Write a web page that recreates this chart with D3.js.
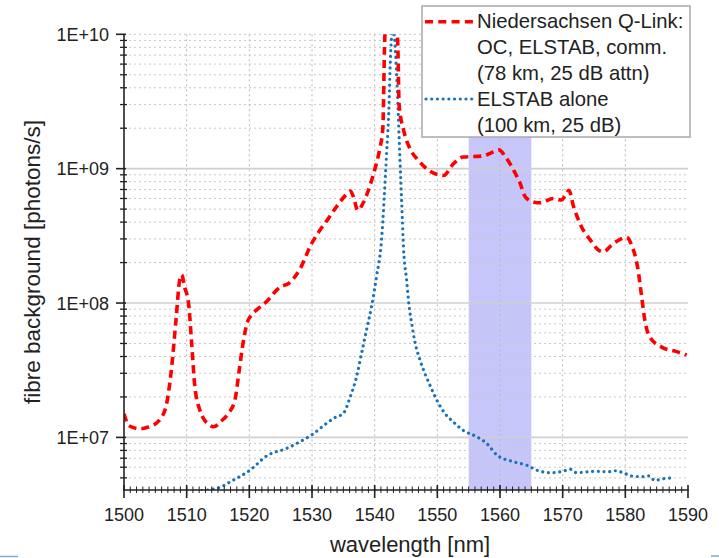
<!DOCTYPE html>
<html><head><meta charset="utf-8">
<script src="https://cdn.jsdelivr.net/npm/d3@7"></script>
<style>body{margin:0;background:#fff}svg{display:block;font-family:"Liberation Sans",Arial,sans-serif}</style>
</head><body><svg id="c" width="719" height="558"></svg>
<script>
// ---- data ----
const redX = [1500.0,1500.8,1502.5,1504.0,1505.5,1506.7,1507.5,1508.3,1508.9,1509.2,1509.7,1510.3,1510.8,1511.3,1512.1,1513.5,1514.3,1515.5,1516.6,1517.7,1518.4,1518.9,1519.6,1520.4,1521.3,1522.8,1524.0,1525.0,1526.3,1528.1,1529.9,1531.2,1532.6,1533.9,1535.3,1536.1,1536.6,1537.3,1538.2,1539.3,1540.0,1540.8,1541.3,1541.6,1541.8,1543.4,1543.7,1543.9,1544.6,1545.6,1547.0,1548.8,1550.2,1551.0,1552.5,1554.1,1557.1,1558.9,1559.8,1561.0,1562.3,1563.2,1564.0,1565.3,1566.4,1568.5,1569.8,1570.4,1571.0,1571.7,1573.0,1574.4,1575.7,1576.5,1577.8,1579.1,1580.2,1581.0,1582.0,1582.6,1583.1,1583.9,1585.8,1588.2,1589.8];
const redY = [1.5e7,1.22e7,1.16e7,1.2e7,1.32e7,1.7e7,3.0e7,7.5e7,1.5e8,1.62e8,1.3e8,1.0e8,5.0e7,2.4e7,1.6e7,1.25e7,1.2e7,1.32e7,1.5e7,1.9e7,3.2e7,4.7e7,7.0e7,8.2e7,9.0e7,1.03e8,1.2e8,1.32e8,1.4e8,1.8e8,2.75e8,3.45e8,4.25e8,5.2e8,6.3e8,6.8e8,6.2e8,4.9e8,5.6e8,7.6e8,9.8e8,1.4e9,2.0e9,9e9,1.3e10,1.3e10,8e9,3e9,1.95e9,1.42e9,1.15e9,9.6e8,9.0e8,8.9e8,1.08e9,1.22e9,1.24e9,1.33e9,1.38e9,1.2e9,9.5e8,7.8e8,6.2e8,5.66e8,5.57e8,6.0e8,5.85e8,6.3e8,6.9e8,5.3e8,3.7e8,2.95e8,2.48e8,2.4e8,2.7e8,2.97e8,3.08e8,2.7e8,1.8e8,1.12e8,7.5e7,5.6e7,4.7e7,4.35e7,4.1e7];
const blueX = [1511.5,1514.8,1517.4,1520.1,1522.8,1526.0,1528.1,1529.9,1532.3,1533.6,1535.0,1536.1,1537.1,1537.9,1538.7,1539.5,1540.3,1541.1,1541.5,1541.9,1542.3,1542.5,1542.9,1543.4,1543.7,1544.0,1544.4,1544.6,1545.1,1545.5,1545.9,1546.4,1547.2,1548.0,1548.8,1549.9,1551.2,1552.5,1554.1,1556.3,1557.9,1559.5,1562.1,1564.3,1566.1,1568.0,1570.1,1571.2,1572.2,1575.2,1577.3,1578.3,1579.9,1581.0,1582.9,1583.8,1584.7,1585.8,1587.8];
const blueY = [4.0e6,4.17e6,4.8e6,5.7e6,7.3e6,8.3e6,9.3e6,1.04e7,1.27e7,1.4e7,1.51e7,2.0e7,2.82e7,4.2e7,6.3e7,9.4e7,1.58e8,2.95e8,5.9e8,1.3e9,3.06e9,6.4e9,1.1e10,6.4e9,3.06e9,1.3e9,4.4e8,2.6e8,1.48e8,9.4e7,7.1e7,5.2e7,3.8e7,3.0e7,2.46e7,1.9e7,1.51e7,1.31e7,1.13e7,1.01e7,9.0e6,7.4e6,6.6e6,6.2e6,5.65e6,5.46e6,5.6e6,5.8e6,5.46e6,5.6e6,5.55e6,5.65e6,5.4e6,5.16e6,5.1e6,5.17e6,4.78e6,4.9e6,5.0e6];
const band = [1555, 1565];
const xTicks = [1500,1510,1520,1530,1540,1550,1560,1570,1580,1590];
const yTicks = [1e7,1e8,1e9,1e10];
const yTickLabels = ["1E+07","1E+08","1E+09","1E+10"];
const legendLines1 = ["Niedersachsen Q-Link:","OC, ELSTAB, comm.","(78 km, 25 dB attn)"];
const legendLines2 = ["ELSTAB alone","(100 km, 25 dB)"];
const xTitle = "wavelength [nm]";
const yTitle = "fibre background [photons/s]";

// ---- layout ----
const L = 124, R = 688, T = 34.3, B = 490;
const svg = d3.select("#c");
const x = d3.scaleLinear().domain([1500,1590]).range([L,R]);
const y = d3.scaleLog().domain([4.06e6,1e10]).range([B,T]);

svg.append("defs").append("clipPath").attr("id","clip")
  .append("rect").attr("x",L).attr("y",T).attr("width",R-L).attr("height",B-T);

// band
svg.append("rect").attr("x",x(band[0])).attr("y",T).attr("width",x(band[1])-x(band[0])).attr("height",B-T)
  .attr("fill","#c6c6fa");

// minor horizontal grid
const minorY = [];
for (let e=6;e<=9;e++) for (let m=2;m<=9;m++){const v=m*Math.pow(10,e); if(v>=4.06e6 && v<1e10) minorY.push(v);}
svg.append("g").selectAll("line").data(minorY.concat([1e10])).join("line")
  .attr("x1",L).attr("x2",R).attr("y1",d=>y(d)).attr("y2",d=>y(d))
  .attr("stroke","#c8c8c8").attr("stroke-width",1).attr("stroke-dasharray","2,3");
// vertical grid
svg.append("g").selectAll("line").data(xTicks.slice(1,-1)).join("line")
  .attr("x1",d=>x(d)).attr("x2",d=>x(d)).attr("y1",T).attr("y2",B)
  .attr("stroke","#b8b8b8").attr("stroke-width",1).attr("stroke-dasharray","2,3");
// major horizontal grid
svg.append("g").selectAll("line").data(yTicks.slice(0,-1)).join("line")
  .attr("x1",L).attr("x2",R).attr("y1",d=>y(d)).attr("y2",d=>y(d))
  .attr("stroke","#cfcfcf").attr("stroke-width",1.6);

// curves
const line = d3.line().x(d=>x(d[0])).y(d=>y(d[1])).curve(d3.curveMonotoneX);
const gC = svg.append("g").attr("clip-path","url(#clip)");
gC.append("path").attr("d",line(blueX.map((v,i)=>[v,blueY[i]])))
  .attr("fill","none").attr("stroke","#1a72b8").attr("stroke-width",3.2)
  .attr("stroke-linecap","round").attr("stroke-dasharray","0.01,5.7");
gC.append("path").attr("d",line(redX.map((v,i)=>[v,redY[i]])))
  .attr("fill","none").attr("stroke","#ff0000").attr("stroke-width",3.6)
  .attr("stroke-dasharray","8,5");

// axes
const ax = svg.append("g").attr("stroke","#222");
ax.append("line").attr("x1",L).attr("x2",L).attr("y1",T).attr("y2",B+0.8).attr("stroke-width",1.6);
ax.append("line").attr("x1",L-0.8).attr("x2",R+0.8).attr("y1",B).attr("y2",B).attr("stroke-width",1.6);
ax.selectAll(".xm").data(d3.range(1501,1590)).join("line")
  .attr("x1",d=>x(d)).attr("x2",d=>x(d)).attr("y1",B-3.5).attr("y2",B+3).attr("stroke-width",1);
ax.selectAll(".xM").data(xTicks).join("line")
  .attr("x1",d=>x(d)).attr("x2",d=>x(d)).attr("y1",B-5).attr("y2",B+8).attr("stroke-width",1.6);
ax.selectAll(".ym").data(minorY).join("line")
  .attr("x1",L-4).attr("x2",L+3).attr("y1",d=>y(d)).attr("y2",d=>y(d)).attr("stroke-width",1.3);
ax.selectAll(".yM").data(yTicks).join("line")
  .attr("x1",L-8).attr("x2",L+2).attr("y1",d=>y(d)).attr("y2",d=>y(d)).attr("stroke-width",1.6);

// tick labels
svg.append("g").selectAll("text").data(xTicks).join("text")
  .attr("x",d=>x(d)).attr("y",B+31).attr("text-anchor","middle")
  .attr("font-size",18).attr("fill","#222").text(d=>d);
svg.append("g").selectAll("text").data(yTicks).join("text")
  .attr("x",L-15).attr("y",d=>y(d)+6.5).attr("text-anchor","end")
  .attr("font-size",18).attr("fill","#222").text((d,i)=>yTickLabels[i]);

// titles
svg.append("text").attr("x",(L+R)/2+4).attr("y",551.5).attr("text-anchor","middle")
  .attr("font-size",22).attr("fill","#222").text(xTitle);
svg.append("text").attr("transform","translate(40,262) rotate(-90)").attr("text-anchor","middle")
  .attr("font-size",22.5).attr("fill","#222").text(yTitle);

// legend
const lg = svg.append("g");
lg.append("rect").attr("x",422).attr("y",6).attr("width",268).attr("height",131)
  .attr("fill","#fff").attr("stroke","#a8a8a8").attr("stroke-width",1.5);
lg.append("line").attr("x1",425).attr("x2",473).attr("y1",21.7).attr("y2",21.7)
  .attr("stroke","#ff0000").attr("stroke-width",3.6).attr("stroke-dasharray","8,5.3");
lg.append("line").attr("x1",426).attr("x2",473).attr("y1",99).attr("y2",99)
  .attr("stroke","#1a72b8").attr("stroke-width",3.2).attr("stroke-linecap","round").attr("stroke-dasharray","0.01,5.7");
lg.selectAll(".t1").data(legendLines1.concat(legendLines2)).join("text")
  .attr("x",477).attr("y",(d,i)=>28.3+i*25.8).attr("font-size",20.3).attr("fill","#222").text(d=>d);

// small edge marks
svg.append("line").attr("x1",0).attr("x2",18).attr("y1",556.5).attr("y2",556.5).attr("stroke","#7eaacb").attr("stroke-width",1.5);
svg.append("line").attr("x1",711).attr("x2",719).attr("y1",556).attr("y2",556).attr("stroke","#7eaacb").attr("stroke-width",1.5);
</script></body></html>
